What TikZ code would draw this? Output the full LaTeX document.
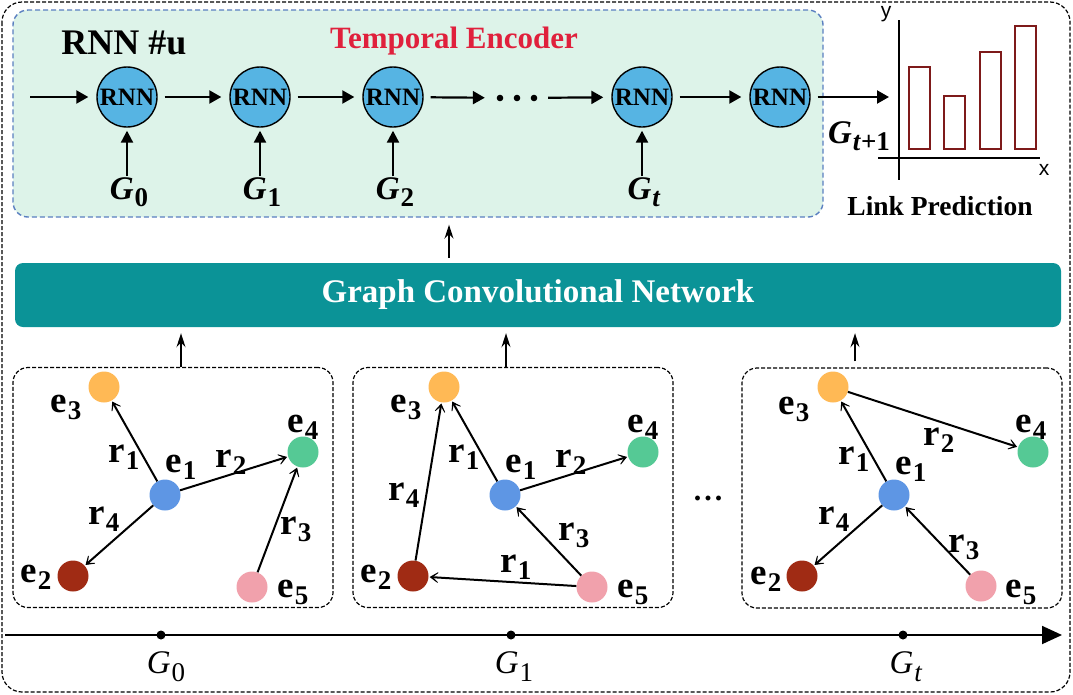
\documentclass[tikz,border=0pt]{standalone}
\usepackage{fontspec}
\setmainfont{Liberation Serif}
\newfontfamily\axisfont{Liberation Sans}
\usetikzlibrary{arrows.meta,positioning,calc}

\definecolor{encfill}{HTML}{DDF3E9}
\definecolor{encline}{HTML}{5A7FC0}
\definecolor{titlered}{HTML}{E0203C}
\definecolor{rnnblue}{HTML}{56B4E3}
\definecolor{gcnteal}{HTML}{0B9397}
\definecolor{barred}{HTML}{7E1A1A}
\definecolor{eorange}{HTML}{FFB955}
\definecolor{egreen}{HTML}{55C995}
\definecolor{eblue}{HTML}{5E96E4}
\definecolor{ered}{HTML}{A02B14}
\definecolor{epink}{HTML}{F1A1AC}

\newcommand{\fs}[1]{\fontsize{#1}{#1}\selectfont}
\newcommand{\gsym}[1]{\textbf{\textit{G}}\kern1pt\raisebox{-7pt}{\fs{27}\bfseries #1}}
\newcommand{\tsym}[1]{\textit{G}\kern1pt\raisebox{-8pt}{\fs{27}#1}}
\newcommand{\entlab}[1]{\textbf{e}\kern1pt\raisebox{-7pt}{\fs{27}\bfseries #1}}
\newcommand{\rellab}[1]{\textbf{r}\kern1pt\raisebox{-7pt}{\fs{27}\bfseries #1}}

\begin{document}
\begin{tikzpicture}[x=1pt, y=-1pt,
    rnn/.style={circle, draw, line width=1.4pt, fill=rnnblue, minimum size=60pt, inner sep=0pt, font=\fs{25}\bfseries},
    rnnarrow/.style={-{Triangle[length=12pt,width=13pt]}, line width=2.2pt, shorten <=7pt, shorten >=8pt},
    inarrow/.style={-{Triangle[length=12pt,width=12pt]}, line width=2.2pt, shorten >=3pt},
    glab/.style={inner sep=1pt, font=\fs{33}},
    ent/.style={circle, minimum size=31pt, inner sep=0pt},
    elab/.style={inner sep=0pt, font=\fs{37}},
    relarrow/.style={-{Stealth[length=13pt,width=17pt,inset=10pt]}, line width=2pt, shorten >=1pt},
    gbox/.style={draw, dash pattern=on 4pt off 2pt, line width=1.2pt, rounded corners=15pt, minimum width=320pt, minimum height=240pt},
    uparrow/.style={-{Stealth[length=14pt,width=9pt]}, line width=1.4pt, shorten >=6pt},
    bar/.style={draw=barred, line width=1.5pt}
]
    \useasboundingbox (0,0) rectangle (1073,694);
    % outer frame
    \draw[dash pattern=on 4pt off 2pt, line width=1.2pt, rounded corners=20pt] (2,2) rectangle (1070,692);

    % temporal encoder
    \node[draw=encline, fill=encfill, dash pattern=on 5pt off 3pt, line width=1.4pt, rounded corners=15pt, minimum width=810pt, minimum height=207pt] (enc) at (418,113.5) {};
    \node[font=\fs{36}\bfseries] (rnnu) at (124,43) {RNN \#u};
    \node[font=\fs{31}\bfseries, text=titlered] (temporal) at (454,41) {Temporal Encoder};
    \node[rnn] (r0) at (127,97) {RNN};
    \node[rnn] (r1) at (260,97) {RNN};
    \node[rnn] (r2) at (393,97) {RNN};
    \node[minimum width=48pt, minimum height=8pt, inner sep=0pt] (dots) at (517,98) {};
    \node[rnn] (r3) at (642,97) {RNN};
    \node[rnn] (r4) at (780,97) {RNN};
    \foreach \dx in {-17,0,17}
        \fill (517+\dx,98) circle (3.3);
    \coordinate (in0) at (23,97);
    \coordinate (pred) at (897,97);
    \draw[rnnarrow] (in0) -- (r0);
    \draw[rnnarrow] (r0) -- (r1);
    \draw[rnnarrow] (r1) -- (r2);
    \draw[rnnarrow] (r2) -- (dots);
    \draw[rnnarrow] (dots) -- (r3);
    \draw[rnnarrow] (r3) -- (r4);
    \draw[rnnarrow] (r4) -- (pred);
    \node[glab] (g0) at (129,192) {\gsym{0}};
    \node[glab] (g1) at (262,192) {\gsym{1}};
    \node[glab] (g2) at (395,192) {\gsym{2}};
    \node[glab] (gt) at (644,192) {\gsym{\textit{t}}};
    \draw[inarrow] (g0.north -| r0) -- (r0);
    \draw[inarrow] (g1.north -| r1) -- (r1);
    \draw[inarrow] (g2.north -| r2) -- (r2);
    \draw[inarrow] (gt.north -| r3) -- (r3);
    \node[glab] (gnext) at (859,136) {\gsym{\textit{t}+1}};

    % link prediction chart
    \draw[line width=1.5pt] (899,20) -- (899,180);
    \draw[line width=1.5pt] (878,158) -- (1040,158);
    \node[font=\axisfont\fs{21}] (ylab) at (886,14) {y};
    \node[font=\axisfont\fs{21}] (xlab) at (1044,170) {x};
    \draw[bar] (909,149) rectangle (930,67);
    \draw[bar] (944,149) rectangle (965,96);
    \draw[bar] (980,149) rectangle (1001,52);
    \draw[bar] (1015,149) rectangle (1036,26);
    \node[font=\fs{27.5}\bfseries] (linkpred) at (940,206) {Link Prediction};

    % GCN
    \node[fill=gcnteal, rounded corners=8pt, minimum width=1046pt, minimum height=64pt, text=white, font=\fs{33}\bfseries] (gcn) at (538,295) {Graph Convolutional Network};
    \coordinate (encin) at ([xshift=-89pt, yshift=5pt]gcn.north);
    \draw[uparrow, shorten >=7pt] (encin) -- (encin |- enc.south);

    % graph snapshots
    \node[gbox] (gbox1) at (173,487.5) {};
    \node[gbox] (gbox2) at (513,487.5) {};
    \node[gbox] (gbox3) at (902,488) {};
    \node[font=\fs{30}\bfseries, anchor=base] (gdots) at (708,500) {.\kern3pt.\kern3pt.};

    \coordinate (up1) at ([xshift=8pt]gbox1.north);
    \coordinate (up2) at ([xshift=-7pt]gbox2.north);
    \coordinate (up3) at ([xshift=-47pt, yshift=6pt]gbox3.north);
    \draw[uparrow] (up1) -- (up1 |- gcn.south);
    \draw[uparrow] (up2) -- (up2 |- gcn.south);
    \draw[uparrow] (up3) -- (up3 |- gcn.south);

    % snapshot G0
    \node[ent, fill=eblue] (a1) at (165,495) {};
    \node[ent, fill=ered] (a2) at (73,576) {};
    \node[ent, fill=eorange] (a3) at (104,387) {};
    \node[ent, fill=egreen] (a4) at (303,452) {};
    \node[ent, fill=epink] (a5) at (252,587) {};
    \node[elab] (a1l) at (181,467) {\entlab{1}};
    \node[elab] (a2l) at (36,577) {\entlab{2}};
    \node[elab] (a3l) at (66,407) {\entlab{3}};
    \node[elab] (a4l) at (303,427) {\entlab{4}};
    \node[elab] (a5l) at (293,592) {\entlab{5}};
    \draw[relarrow] (a1) -- (a3);
    \draw[relarrow] (a1) -- (a4);
    \draw[relarrow] (a1) -- (a2);
    \draw[relarrow] (a5) -- (a4);
    \node[elab] (ar1) at (124,457) {\rellab{1}};
    \node[elab] (ar2) at (231,462) {\rellab{2}};
    \node[elab] (ar3) at (296,529) {\rellab{3}};
    \node[elab] (ar4) at (104,519) {\rellab{4}};

    % snapshot G1
    \node[ent, fill=eblue] (b1) at (505,495) {};
    \node[ent, fill=ered] (b2) at (413,576) {};
    \node[ent, fill=eorange] (b3) at (444,387) {};
    \node[ent, fill=egreen] (b4) at (643,452) {};
    \node[ent, fill=epink] (b5) at (592,587) {};
    \node[elab] (b1l) at (521,467) {\entlab{1}};
    \node[elab] (b2l) at (376,577) {\entlab{2}};
    \node[elab] (b3l) at (406,407) {\entlab{3}};
    \node[elab] (b4l) at (643,427) {\entlab{4}};
    \node[elab] (b5l) at (633,592) {\entlab{5}};
    \draw[relarrow] (b1) -- (b3);
    \draw[relarrow] (b1) -- (b4);
    \draw[relarrow] (b2) -- (b3);
    \draw[relarrow] (b5) -- (b1);
    \draw[relarrow] (b5) -- (b2);
    \node[elab] (br1) at (464,457) {\rellab{1}};
    \node[elab] (br2) at (571,462) {\rellab{2}};
    \node[elab] (br3) at (574,535) {\rellab{3}};
    \node[elab] (br4) at (404,495) {\rellab{4}};
    \node[elab] (br5) at (516,567) {\rellab{1}};

    % snapshot Gt
    \node[ent, fill=eblue] (c1) at (894,495) {};
    \node[ent, fill=ered] (c2) at (802,576) {};
    \node[ent, fill=eorange] (c3) at (833,387) {};
    \node[ent, fill=egreen] (c4) at (1033,452) {};
    \node[ent, fill=epink] (c5) at (981,586) {};
    \node[elab] (c1l) at (911,469) {\entlab{1}};
    \node[elab] (c2l) at (766,579) {\entlab{2}};
    \node[elab] (c3l) at (794,409) {\entlab{3}};
    \node[elab] (c4l) at (1031,427) {\entlab{4}};
    \node[elab] (c5l) at (1021,592) {\entlab{5}};
    \draw[relarrow] (c1) -- (c3);
    \draw[relarrow] (c3) -- (c4);
    \draw[relarrow] (c1) -- (c2);
    \draw[relarrow] (c5) -- (c1);
    \node[elab] (cr1) at (854,459) {\rellab{1}};
    \node[elab] (cr2) at (939,440) {\rellab{2}};
    \node[elab] (cr3) at (964,547) {\rellab{3}};
    \node[elab] (cr4) at (834,519) {\rellab{4}};

    % time axis
    \coordinate (tstart) at (5,635);
    \coordinate (tend) at (1062,635);
    \draw[line width=1.8pt, -{Triangle[length=20pt,width=18pt]}] (tstart) -- (tend);
    \node[circle, fill, minimum size=9pt, inner sep=0pt] (t0) at (161,635) {};
    \node[circle, fill, minimum size=9pt, inner sep=0pt] (t1) at (511,635) {};
    \node[circle, fill, minimum size=9pt, inner sep=0pt] (tt) at (903,635) {};
    \node[font=\fs{33}] (t0l) at (166,667) {\tsym{0}};
    \node[font=\fs{33}] (t1l) at (514,667) {\tsym{1}};
    \node[font=\fs{33}] (ttl) at (906,667) {\tsym{\textit{t}}};
\end{tikzpicture}
\end{document}
